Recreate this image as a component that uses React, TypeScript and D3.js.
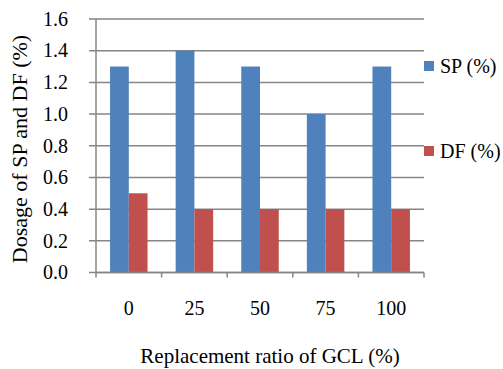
import React from "react";
import * as d3 from "d3";

const categories = ["0", "25", "50", "75", "100"];
const spValues = [1.3, 1.4, 1.3, 1.0, 1.3];
const dfValues = [0.5, 0.4, 0.4, 0.4, 0.4];
const yTicks = [0, 0.2, 0.4, 0.6, 0.8, 1.0, 1.2, 1.4, 1.6];
const seriesNames = ["SP (%)", "DF (%)"];
const colors = ["#4F81BD", "#C0504D"];

export default function App() {
  const W = 503, H = 369;
  const left = 96, right = 424, top = 19, bottom = 272.5;
  const x = d3.scaleBand().domain(categories).range([left, right]).paddingInner(0).paddingOuter(0);
  const y = d3.scaleLinear().domain([0, 1.6]).range([bottom, top]);
  const bw = x.bandwidth();
  const barW = bw / 3.5;
  const off = bw * 0.75 / 3.5;
  const grid = "#868686";
  const ts = { fontFamily: "Liberation Serif" };
  const series = [spValues, dfValues];
  return (
    <svg width={W} height={H} style={{ position: "absolute", left: 0, top: 0 }}>
      <rect width={W} height={H} fill="#fff" />
      {yTicks.map((t) => (
        <line key={"g" + t} x1={left - 7} x2={right} y1={y(t)} y2={y(t)} stroke={grid} strokeWidth={1.5} />
      ))}
      {series.map((vals, si) =>
        vals.map((v, i) => (
          <rect key={si + "-" + i} x={(x(categories[i]) as number) + off + si * barW} y={y(v)} width={barW} height={y(0) - y(v)} fill={colors[si]} />
        ))
      )}
      <line x1={left} x2={left} y1={top} y2={bottom} stroke={grid} strokeWidth={1.5} />
      <line x1={left} x2={right} y1={bottom} y2={bottom} stroke={grid} strokeWidth={1.5} />
      {categories.map((c, i) => (
        <line key={"xt" + i} x1={x(c) as number} x2={x(c) as number} y1={bottom} y2={bottom + 5} stroke={grid} strokeWidth={1.5} />
      ))}
      <line x1={right} x2={right} y1={bottom} y2={bottom + 5} stroke={grid} strokeWidth={1.5} />
      {yTicks.map((t) => (
        <text key={"yl" + t} x={68} y={y(t)} dy="0.34em" textAnchor="end" style={ts} fontSize={20} fill="#000">
          {t.toFixed(1)}
        </text>
      ))}
      {categories.map((c) => (
        <text key={"xl" + c} x={(x(c) as number) + bw / 2} y={315} textAnchor="middle" style={ts} fontSize={20} fill="#000">
          {c}
        </text>
      ))}
      <text x={270} y={362.5} textAnchor="middle" style={ts} fontSize={21} fill="#000">
        Replacement ratio of GCL (%)
      </text>
      <text transform={`translate(27,149) rotate(-90)`} textAnchor="middle" style={ts} fontSize={22} fill="#000">
        Dosage of SP and DF (%)
      </text>
      {seriesNames.map((n, i) => (
        <g key={n} transform={`translate(424,${i === 0 ? 61 : 146})`}>
          <rect width={10} height={10} fill={colors[i]} />
          <text x={16} y={12} style={ts} fontSize={20} fill="#000">{n}</text>
        </g>
      ))}
    </svg>
  );
}
